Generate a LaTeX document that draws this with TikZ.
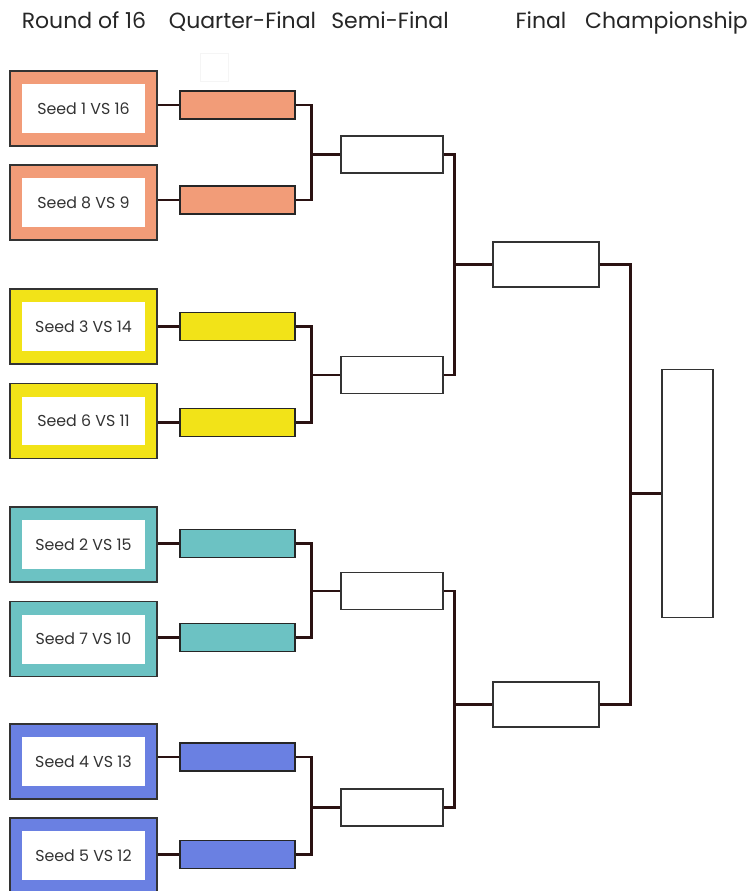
\documentclass[tikz,border=0pt]{standalone}
\usepackage{fontspec}
\setmainfont{Poppins}
\usetikzlibrary{positioning, calc}
\definecolor{salmon}{HTML}{F29C78}
\definecolor{lemon}{HTML}{F2E318}
\definecolor{teal}{HTML}{6CC2C3}
\definecolor{blueish}{HTML}{6A80E2}
\definecolor{linkbrown}{HTML}{2A1212}

\begin{document}
\begin{tikzpicture}[x=0.02cm, y=-0.02cm,
    round/.style={draw=black!80, line width=0.7pt, minimum width=2.94cm, minimum height=1.5cm, inner sep=0pt},
    match/.style={fill=white, minimum width=2.48cm, minimum height=0.98cm, inner sep=0pt, text=black!80, font=\fontsize{9}{10}\selectfont},
    quarter/.style={draw=black!85, line width=0.7pt, minimum width=2.3cm, minimum height=0.56cm, inner sep=0pt},
    semi/.style={draw=black!80, line width=0.6pt, fill=white, minimum width=2.04cm, minimum height=0.74cm, inner sep=0pt},
    final/.style={semi, minimum width=2.12cm, minimum height=0.9cm},
    title/.style={anchor=base, text=black!85, font=\fontsize{12.5}{14}\selectfont},
    link/.style={draw=linkbrown, line width=1.4pt}]
    \useasboundingbox (0,0) rectangle (751,891);
    % Column titles
    \node[title] (t1) at (84,29) {Round of 16};
    \node[title] (t2) at (242.5,29) {Quarter-Final};
    \node[title] (t3) at (390,29) {Semi-Final};
    \node[title] (t4) at (541,29) {Final};
    \node[title] (t5) at (666.5,29) {Championship};
    \node[draw=black!4, minimum size=0.56cm] (blank) at (214,67) {};
    % Round of 16
    \node[round, fill=salmon] (r1) at (83.5,108.5) {};
    \node[match] (m1) at (r1) {Seed 1 VS 16};
    \node[round, fill=salmon] (r2) at (83.5,202.5) {};
    \node[match] (m2) at (r2) {Seed 8 VS 9};
    \node[round, fill=lemon] (r3) at (83.5,326.5) {};
    \node[match] (m3) at (r3) {Seed 3 VS 14};
    \node[round, fill=lemon] (r4) at (83.5,421) {};
    \node[match] (m4) at (r4) {Seed 6 VS 11};
    \node[round, fill=teal] (r5) at (83.5,544.5) {};
    \node[match] (m5) at (r5) {Seed 2 VS 15};
    \node[round, fill=teal] (r6) at (83.5,639) {};
    \node[match] (m6) at (r6) {Seed 7 VS 10};
    \node[round, fill=blueish] (r7) at (83.5,761.5) {};
    \node[match] (m7) at (r7) {Seed 4 VS 13};
    \node[round, fill=blueish] (r8) at (83.5,855.5) {};
    \node[match] (m8) at (r8) {Seed 5 VS 12};
    % Quarter-final
    \node[quarter, fill=salmon] (q1) at (237.5,105) {};
    \node[quarter, fill=salmon] (q2) at (237.5,200) {};
    \node[quarter, fill=lemon] (q3) at (237.5,326.5) {};
    \node[quarter, fill=lemon] (q4) at (237.5,422.5) {};
    \node[quarter, fill=teal] (q5) at (237.5,543.5) {};
    \node[quarter, fill=teal] (q6) at (237.5,637.5) {};
    \node[quarter, fill=blueish] (q7) at (237.5,757) {};
    \node[quarter, fill=blueish] (q8) at (237.5,854.5) {};
    % Semi-final, final, championship
    \node[semi] (s1) at (392,154.5) {};
    \node[semi] (s2) at (392,375) {};
    \node[semi] (s3) at (392,591) {};
    \node[semi] (s4) at (392,807.5) {};
    \node[final] (f1) at (546,264.5) {};
    \node[final] (f2) at (546,704.5) {};
    \node[semi, minimum width=1.02cm, minimum height=4.96cm] (champ) at (687.5,493.5) {};
    % Links
    \draw[link] (q1.west) -- (q1.west -| r1.east);
    \draw[link] (q2.west) -- (q2.west -| r2.east);
    \draw[link] (q3.west) -- (q3.west -| r3.east);
    \draw[link] (q4.west) -- (q4.west -| r4.east);
    \draw[link] (q5.west) -- (q5.west -| r5.east);
    \draw[link] (q6.west) -- (q6.west -| r6.east);
    \draw[link] (q7.west) -- (q7.west -| r7.east);
    \draw[link] (q8.west) -- (q8.west -| r8.east);
    \draw[link] (q1.east) -- ++(16,0) |- (s1.west);
    \draw[link] (q2.east) -- ++(16,0) |- (s1.west);
    \draw[link] (q3.east) -- ++(16,0) |- (s2.west);
    \draw[link] (q4.east) -- ++(16,0) |- (s2.west);
    \draw[link] (q5.east) -- ++(16,0) |- (s3.west);
    \draw[link] (q6.east) -- ++(16,0) |- (s3.west);
    \draw[link] (q7.east) -- ++(16,0) |- (s4.west);
    \draw[link] (q8.east) -- ++(16,0) |- (s4.west);
    \draw[link] (s1.east) -- ++(11,0) |- (f1.west);
    \draw[link] (s2.east) -- ++(11,0) |- (f1.west);
    \draw[link] (s3.east) -- ++(11,0) |- (f2.west);
    \draw[link] (s4.east) -- ++(11,0) |- (f2.west);
    \draw[link] (f1.east) -- ++(31,0) |- (champ.west);
    \draw[link] (f2.east) -- ++(31,0) |- (champ.west);
\end{tikzpicture}
\end{document}
